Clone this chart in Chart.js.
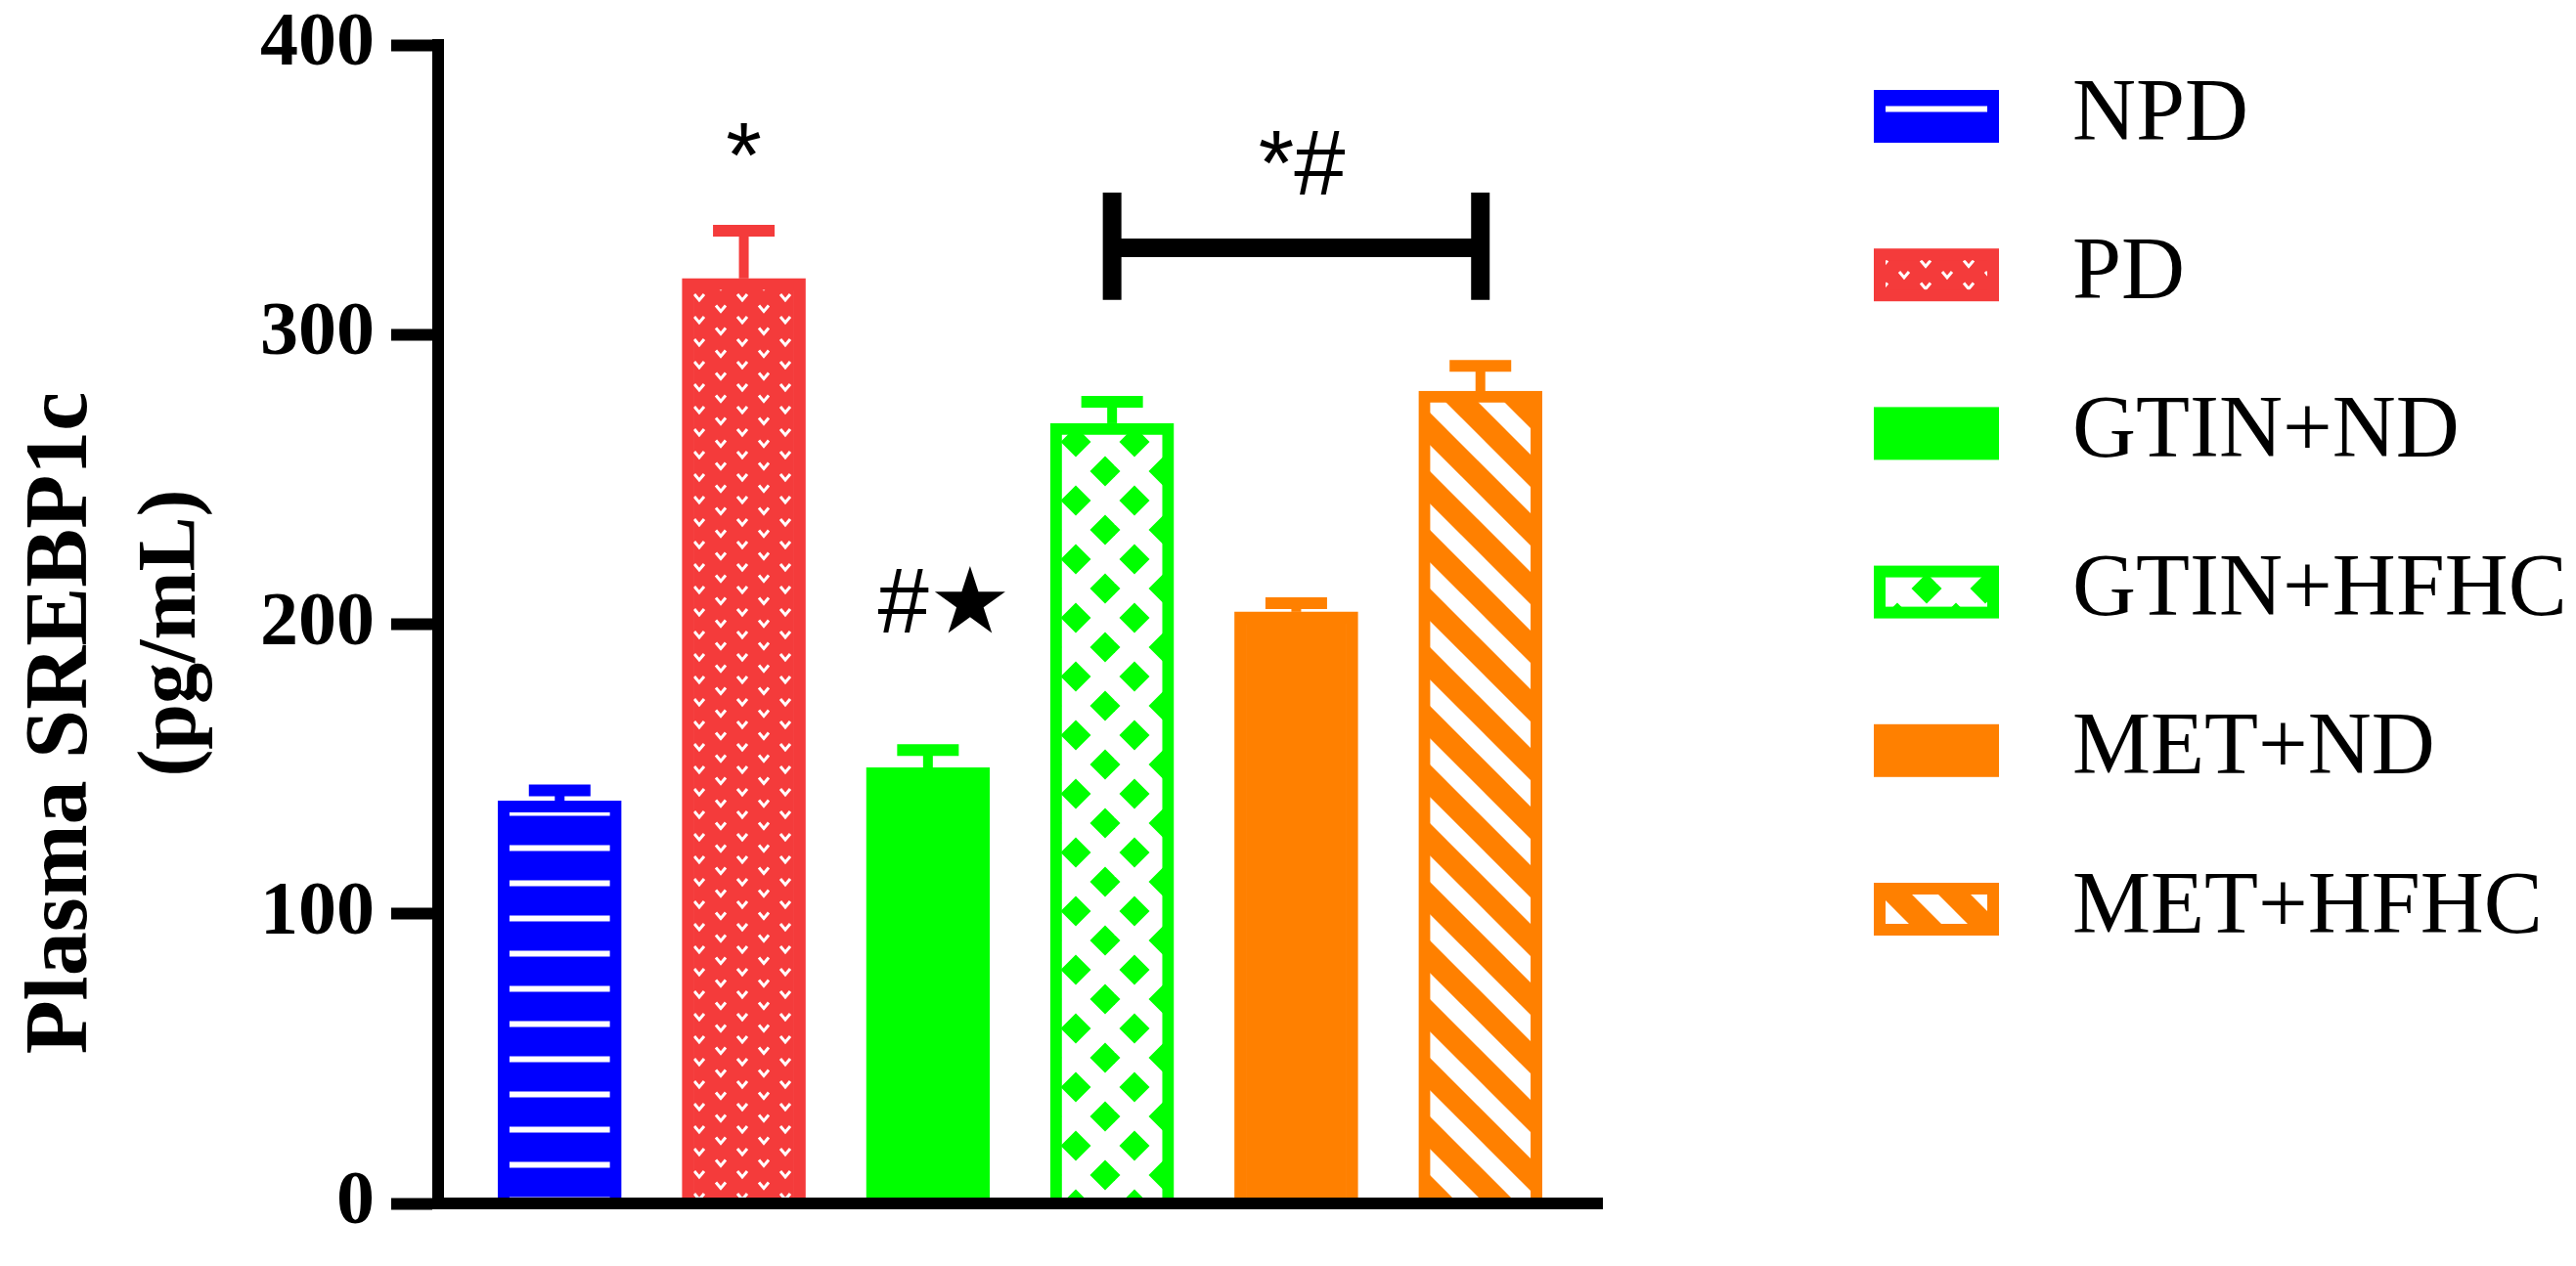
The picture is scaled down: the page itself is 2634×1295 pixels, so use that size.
<!DOCTYPE html>
<html>
<head>
<meta charset="utf-8">
<script src="https://cdn.jsdelivr.net/npm/chart.js@4.4.1/dist/chart.umd.min.js"></script>
<style>
  html, body { margin: 0; padding: 0; background: #fff; }
  canvas { display: block; }
</style>
</head>
<body>
<canvas id="chart" width="2634" height="1295"></canvas>
<script>
// values (pg/mL), mean and SEM
const groups = ['NPD', 'PD', 'GTIN+ND', 'GTIN+HFHC', 'MET+ND', 'MET+HFHC'];
const means = [139, 319.4, 150.5, 269.4, 204.3, 280.5];
const sems = [3.7, 16.5, 6.1, 7.4, 3.0, 8.7];
const colors = ['#0000FF', '#F43B3B', '#00FF00', '#00FF00', '#FF8000', '#FF8000'];
const yMax = 400;
const yStep = 100;

// significance marks: text, x (group index), y (baseline value)
const markText = ['*', '#\u2605', '*#'];
const markX = [1, 2.09, 4.03];
const markY = [351, 197.2, 348.3];
// bracket between GTIN+HFHC and MET+HFHC
const bracketFrom = 3, bracketTo = 5;
const bracketLevel = 330, bracketLow = 312, bracketHigh = 349;

const canvas = document.getElementById('chart');
const ctx = canvas.getContext('2d');

function tile(w, h, paint) {
    const c = document.createElement('canvas');
    c.width = w; c.height = h;
    paint(c.getContext('2d'), w, h);
    return ctx.createPattern(c, 'repeat');
}

const stripes = tile(8, 36, (g, w, h) => {
    g.fillStyle = colors[0]; g.fillRect(0, 0, w, h);
    g.fillStyle = '#fff'; g.fillRect(0, 0.5, w, 6);
});

const chevrons = tile(44, 23, (g, w, h) => {
    g.fillStyle = colors[1]; g.fillRect(0, 0, w, h);
    g.strokeStyle = '#fff'; g.lineWidth = 3;
    [[11, 5], [33, 16.5]].forEach(([cx, cy]) => {
        g.beginPath();
        g.moveTo(cx - 5, cy - 3); g.lineTo(cx, cy + 3); g.lineTo(cx + 5, cy - 3);
        g.stroke();
    });
});

const lattice = tile(60, 60, (g, w, h) => {
    g.fillStyle = '#fff'; g.fillRect(0, 0, w, h);
    g.fillStyle = colors[3];
    const r = 15.5;
    [[50, 2], [20, 32]].forEach(([cx, cy]) => {
        for (let dx = -60; dx <= 60; dx += 60) {
            for (let dy = -60; dy <= 60; dy += 60) {
                g.beginPath();
                g.moveTo(cx + dx, cy + dy - r);
                g.lineTo(cx + dx + r, cy + dy);
                g.lineTo(cx + dx, cy + dy + r);
                g.lineTo(cx + dx - r, cy + dy);
                g.closePath();
                g.fill();
            }
        }
    });
});

const diagonals = tile(60, 60, (g, w, h) => {
    g.fillStyle = colors[5]; g.fillRect(0, 0, w, h);
    g.strokeStyle = '#fff'; g.lineWidth = 19;
    for (let k = -2; k <= 2; k++) {
        const c = 26.5 + 60 * k;
        g.beginPath();
        g.moveTo(-20, -20 + c); g.lineTo(80, 80 + c);
        g.stroke();
    }
});

const fills = [stripes, chevrons, colors[2], lattice, colors[4], diagonals];

const serif = '"Liberation Serif", "Times New Roman", serif';
const sans = '"Liberation Sans", Arial, "DejaVu Sans", sans-serif';

const errorBars = {
    id: 'errorBars',
    afterDatasetsDraw(chart) {
        const {ctx, scales: {x, y}} = chart;
        ctx.save();
        ctx.lineCap = 'butt';
        groups.forEach((g, i) => {
            const bar = chart.getDatasetMeta(i).data[0];
            const cx = x.getPixelForValue(i);
            const top = y.getPixelForValue(means[i]);
            const end = y.getPixelForValue(means[i] + sems[i]);
            const half = bar.width / 4;
            ctx.strokeStyle = colors[i];
            ctx.lineWidth = 10;
            ctx.beginPath(); ctx.moveTo(cx, top); ctx.lineTo(cx, end); ctx.stroke();
            ctx.lineWidth = 12;
            ctx.beginPath(); ctx.moveTo(cx - half, end); ctx.lineTo(cx + half, end); ctx.stroke();
        });
        ctx.restore();
    }
};

const marks = {
    id: 'marks',
    afterDatasetsDraw(chart) {
        const {ctx, scales: {x, y}} = chart;
        ctx.save();
        ctx.fillStyle = '#000';
        ctx.font = '94px ' + sans;
        ctx.textAlign = 'center';
        ctx.textBaseline = 'alphabetic';
        markText.forEach((t, i) => {
            ctx.fillText(t, x.getPixelForValue(markX[i]), y.getPixelForValue(markY[i]));
        });
        // bracket
        const x1 = x.getPixelForValue(bracketFrom);
        const x2 = x.getPixelForValue(bracketTo);
        const yl = y.getPixelForValue(bracketLevel);
        ctx.strokeStyle = '#000';
        ctx.lineWidth = 19;
        ctx.beginPath();
        ctx.moveTo(x1, yl); ctx.lineTo(x2, yl);
        [x1, x2].forEach(px => {
            ctx.moveTo(px, y.getPixelForValue(bracketHigh));
            ctx.lineTo(px, y.getPixelForValue(bracketLow));
        });
        ctx.stroke();
        ctx.restore();
    }
};

// two-line rotated y axis title
const yTitle = {
    id: 'yTitle',
    afterDraw(chart) {
        const {ctx, chartArea} = chart;
        const mid = (chartArea.top + chartArea.bottom) / 2;
        ctx.save();
        ctx.fillStyle = '#000';
        ctx.textAlign = 'center';
        ctx.textBaseline = 'alphabetic';
        [['Plasma SREBP1c', 90, chartArea.left - 360, mid + 101],
         ['(pg/mL)', 84, chartArea.left - 249, mid + 9]].forEach(([t, size, px, py]) => {
            ctx.save();
            ctx.font = 'bold ' + size + 'px ' + serif;
            ctx.translate(px, py);
            ctx.rotate(-Math.PI / 2);
            ctx.fillText(t, 0, 0);
            ctx.restore();
        });
        ctx.restore();
    }
};

// legend column to the right of the plot, built from the datasets
const sideLegend = {
    id: 'sideLegend',
    afterDraw(chart) {
        const {ctx, chartArea} = chart;
        const boxX = chartArea.right + 284;
        const textX = chartArea.right + 481;
        ctx.save();
        ctx.font = '90px ' + serif;
        ctx.textBaseline = 'middle';
        ctx.textAlign = 'left';
        chart.data.datasets.forEach((ds, i) => {
            const cy = chartArea.top + 73 + 162.2 * i;
            ctx.fillStyle = ds.backgroundColor;
            ctx.fillRect(boxX, cy - 21, 116, 42);
            ctx.strokeStyle = ds.borderColor;
            ctx.lineWidth = ds.borderWidth;
            ctx.strokeRect(boxX, cy - 21, 116, 42);
            ctx.fillStyle = '#000';
            ctx.fillText(ds.label, textX, cy);
        });
        ctx.restore();
    }
};

new Chart(canvas, {
    type: 'bar',
    data: {
        datasets: groups.map((g, i) => ({
            label: g,
            data: [{x: i, y: means[i]}],
            backgroundColor: fills[i],
            borderColor: colors[i],
            borderWidth: 12,
            barThickness: 126,
            grouped: false
        }))
    },
    options: {
        responsive: false,
        animation: false,
        devicePixelRatio: 1,
        layout: { padding: { top: 2, right: 996, bottom: 0, left: 0 } },
        scales: {
            x: {
                type: 'linear',
                offset: false,
                min: -0.66,
                max: groups.length - 1 + 0.66,
                ticks: { display: false },
                grid: { display: false, offset: false },
                border: { display: true, color: '#000', width: 12, z: 1 },
                afterFit: s => { s.height = 57.5; }
            },
            y: {
                min: 0,
                max: yMax,
                ticks: {
                    stepSize: yStep,
                    color: '#000',
                    padding: 17,
                    font: { family: serif, size: 78, weight: 'bold' }
                },
                grid: {
                    drawOnChartArea: false,
                    drawTicks: true,
                    tickLength: 48,
                    tickWidth: 12,
                    tickColor: '#000'
                },
                border: { display: true, color: '#000', width: 12, z: 1 },
                afterFit: s => { s.width = 448; s.paddingTop = 46; }
            }
        },
        plugins: {
            legend: { display: false },
            tooltip: { enabled: false }
        }
    },
    plugins: [errorBars, marks, yTitle, sideLegend]
});
</script>
</body>
</html>
